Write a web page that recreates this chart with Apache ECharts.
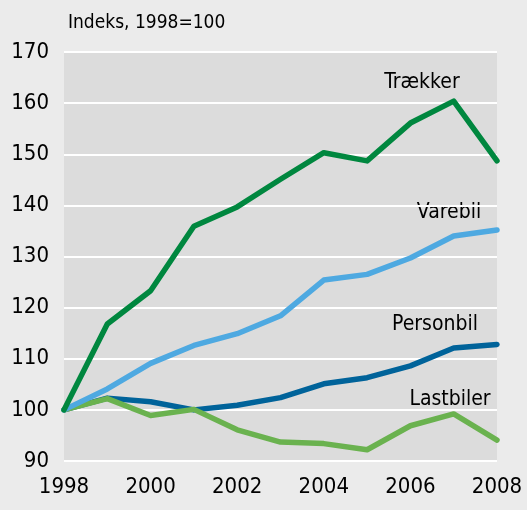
<!DOCTYPE html>
<html><head><meta charset="utf-8">
<script src="https://cdn.jsdelivr.net/npm/echarts@6/dist/echarts.min.js"></script>
<style>html,body{margin:0;padding:0;background:#ebebeb;}#c{width:527px;height:510px;}</style>
</head><body><div id="c"></div>
<script>
const years = ['1998','1999','2000','2001','2002','2003','2004','2005','2006','2007','2008'];
const traekker = [100, 116.8, 123.3, 135.9, 139.7, 145.1, 150.3, 148.7, 156.1, 160.4, 148.7];
const varebil = [100, 104.1, 109.1, 112.6, 114.9, 118.4, 125.4, 126.5, 129.7, 134.0, 135.2];
const personbil = [100, 102.3, 101.6, 100.0, 100.9, 102.4, 105.1, 106.3, 108.6, 112.1, 112.8];
const lastbiler = [100, 102.2, 98.9, 100.1, 96.1, 93.7, 93.4, 92.2, 96.9, 99.2, 94.1];
const yTicks = [90, 170, 10];
const FONT = "'Liberation Sans Narrow', 'DejaVu Sans Condensed', 'Liberation Sans', sans-serif";

const chart = echarts.init(document.getElementById('c'), null, {renderer: 'canvas'});
function line(name, data, color) {
  return {name, type: 'line', data, symbol: 'none', smooth: false,
    lineStyle: {color, width: 5.5, cap: 'round', join: 'round'}, itemStyle: {color}};
}
chart.setOption({
  animation: false,
  backgroundColor: '#ebebeb',
  grid: {left: 64, right: 30, top: 52, bottom: 49, show: true, backgroundColor: '#dcdcdc', borderWidth: 0},
  xAxis: {type: 'category', data: years, boundaryGap: false,
    axisLine: {show: false}, axisTick: {show: false}, splitLine: {show: false},
    axisLabel: {interval: 1, color: '#000', fontFamily: FONT, fontSize: 22, margin: 15}},
  yAxis: {type: 'value', min: yTicks[0], max: yTicks[1], interval: yTicks[2],
    axisLine: {show: false}, axisTick: {show: false},
    splitLine: {show: true, lineStyle: {color: '#ffffff', width: 2}},
    axisLabel: {color: '#000', fontFamily: FONT, fontSize: 22, margin: 15}},
  series: [
    line('Personbil', personbil, '#00639a'),
    line('Lastbiler', lastbiler, '#6ab24f'),
    line('Varebil', varebil, '#4ea9e1'),
    line('Trækker', traekker, '#00873f')
  ],
  graphic: [
    {type: 'text', left: 68, top: 14, style: {text: 'Indeks, 1998=100', fill: '#000', font: '19px ' + FONT}},
    {type: 'text', x: 422, y: 83, style: {text: 'Trækker', fill: '#000', font: '21px ' + FONT, align: 'center', verticalAlign: 'middle'}},
    {type: 'text', x: 449, y: 213, style: {text: 'Varebil', fill: '#000', font: '21px ' + FONT, align: 'center', verticalAlign: 'middle'}},
    {type: 'text', x: 435, y: 325, style: {text: 'Personbil', fill: '#000', font: '21px ' + FONT, align: 'center', verticalAlign: 'middle'}},
    {type: 'text', x: 450, y: 400, style: {text: 'Lastbiler', fill: '#000', font: '21px ' + FONT, align: 'center', verticalAlign: 'middle'}}
  ]
});
</script></body></html>
